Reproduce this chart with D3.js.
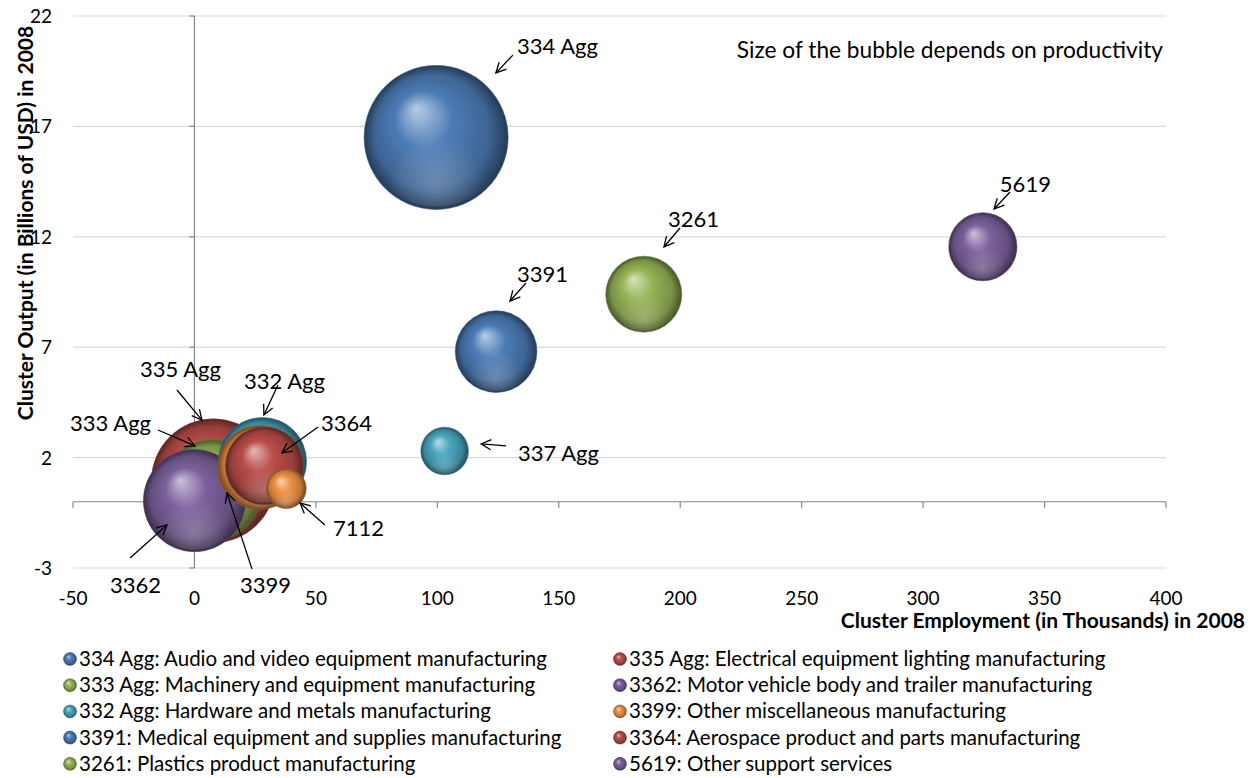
<!DOCTYPE html>
<html><head><meta charset="utf-8">
<script src="https://cdn.jsdelivr.net/npm/d3@7/dist/d3.min.js"></script>
<style>body{margin:0;background:#fff}svg{display:block;font-family:Lato,'Open Sans',sans-serif}</style>
</head><body><svg id="c" width="1253" height="778"></svg>
<script>
// ---- data ----
const ids = ["334 Agg","335 Agg","333 Agg","3362","332 Agg","3399","3391","3364","3261","5619","7112","337 Agg"];
const names = ["Audio and video equipment manufacturing","Electrical equipment lighting manufacturing","Machinery and equipment manufacturing","Motor vehicle body and trailer manufacturing","Hardware and metals manufacturing","Other miscellaneous manufacturing","Medical equipment and supplies manufacturing","Aerospace product and parts manufacturing","Plastics product manufacturing","Other support services","",""];
const employment = [99.5, 7.8, 7.4, 0.0, 28.0, 26.8, 124.2, 28.8, 185.0, 324.6, 37.8, 103.0];
const output = [16.5, 0.95, 0.54, 0.05, 1.82, 1.55, 6.8, 1.63, 9.4, 11.55, 0.6, 2.3];
const productivity = [165, 122, 80, 83, 62, 56, 53, 48, 46, 37, 12.7, 18];
const inLegend = [true,true,true,true,true,true,true,true,true,true,false,false];
const colors = ["#4f81bd","#c0504d","#9bbb59","#8064a2","#4bacc6","#f79646","#4f81bd","#c0504d","#9bbb59","#8064a2","#f79646","#4bacc6"];
const xTicks = [-50,0,50,100,150,200,250,300,350,400];
const yTicks = [-3,2,7,12,17,22];
// annotations: label anchor, arrow start, arrow tip (all in data units)
const annLabel = ["334 Agg","5619","3261","3391","335 Agg","332 Agg","333 Agg","3364","337 Agg","7112","3362","3399"];
const annText = [[132.8,20.28],[331.6,14.03],[195,12.44],[132.8,9.95],[-22.4,5.65],[20.4,5.11],[-51.2,3.2],[52.1,3.2],[133.2,1.85],[57,-1.55],[-34.8,-4.13],[18.75,-4.13]];
const annFrom = [[131.1,20.23],[335.8,14.03],[199.9,12.4],[136.5,9.91],[-7.2,5.06],[34.4,5.29],[-15,3.25],[50.9,3.39],[128.3,2.53],[53.7,-1.05],[-26.5,-2.55],[23.7,-3.05]];
const annTo = [[124.1,19.42],[329.2,13.26],[193.3,11.54],[129.9,9.09],[3.1,3.7],[28.6,3.93],[0.2,2.53],[36,2.21],[118,2.62],[43.5,-0.06],[-11.3,-1.05],[13.4,0.4]];

// ---- chart ----
const svg = d3.select("#c");
const x = d3.scaleLinear().domain([-50,400]).range([73,1166]);
const y = d3.scaleLinear().domain([-3,22]).range([568,16]);
const r = d3.scaleSqrt().domain([0,165]).range([0,72]);

const defs = svg.append("defs");
function grad(id, c){
  const base = d3.color(c);
  const g = defs.append("radialGradient").attr("id",id).attr("cx","50%").attr("cy","50%").attr("r","50%").attr("fx","36%").attr("fy","30%");
  g.append("stop").attr("offset","0%").attr("stop-color", d3.interpolateRgb(c,"#ffffff")(0.6));
  g.append("stop").attr("offset","40%").attr("stop-color", base.darker(0.1));
  g.append("stop").attr("offset","80%").attr("stop-color", base.darker(0.7));
  g.append("stop").attr("offset","100%").attr("stop-color", base.darker(2.2));
}
colors.forEach((c,i)=>grad("g"+i,c));
const refl = defs.append("radialGradient").attr("id","refl").attr("cx","50%").attr("cy","82%").attr("r","35%");
refl.append("stop").attr("offset","0%").attr("stop-color","#ffffff").attr("stop-opacity",0.22);
refl.append("stop").attr("offset","100%").attr("stop-color","#ffffff").attr("stop-opacity",0);
const mk = defs.append("marker").attr("id","arr").attr("viewBox","0 0 12 12").attr("refX",11).attr("refY",6)
  .attr("markerWidth",12).attr("markerHeight",12).attr("markerUnits","userSpaceOnUse").attr("orient","auto");
mk.append("path").attr("d","M1,1 L11,6 L1,11").attr("fill","none").attr("stroke","#000").attr("stroke-width",1.3);

// gridlines
svg.append("g").selectAll("line").data(yTicks).join("line")
  .attr("x1",x(-50)).attr("x2",x(400)).attr("y1",d=>y(d)).attr("y2",d=>y(d))
  .attr("stroke","#d9d9d9").attr("stroke-width",1.2);
// axes (crossing at 0,0)
const ax = svg.append("g").attr("stroke","#868686").attr("stroke-width",1.2);
ax.append("line").attr("x1",x(-50)).attr("x2",x(400)).attr("y1",y(0)).attr("y2",y(0));
ax.selectAll(".xt").data(xTicks).join("line").attr("x1",d=>x(d)).attr("x2",d=>x(d)).attr("y1",y(0)).attr("y2",y(0)+6);
ax.append("line").attr("x1",x(0)).attr("x2",x(0)).attr("y1",y(-3)).attr("y2",y(22));
ax.selectAll(".yt").data(yTicks).join("line").attr("x1",x(0)-5).attr("x2",x(0)).attr("y1",d=>y(d)).attr("y2",d=>y(d));

// tick labels
svg.append("g").selectAll("text").data(xTicks).join("text")
  .attr("x",d=>x(d)).attr("y",605).attr("text-anchor","middle").attr("font-size",19).attr("fill","#000").text(d=>d);
svg.append("g").selectAll("text").data(yTicks).join("text")
  .attr("x",52).attr("y",d=>y(d)+7).attr("text-anchor","end").attr("font-size",19).attr("fill","#000").text(d=>d);

// axis titles
svg.append("text").attr("x",1245).attr("y",628).attr("text-anchor","end").attr("font-weight","bold").attr("font-size",21).text("Cluster Employment (in Thousands) in 2008");
svg.append("text").attr("transform","translate(33,223) rotate(-90)").attr("text-anchor","middle").attr("font-weight","bold").attr("font-size",21).text("Cluster Output (in Billions of USD) in 2008");

// bubbles
const idx = d3.range(ids.length);
const bg = svg.append("g").selectAll("g").data(idx).join("g");
bg.append("circle")
  .attr("cx",i=>x(employment[i])).attr("cy",i=>y(output[i])).attr("r",i=>r(productivity[i]))
  .attr("fill",i=>"url(#g"+i+")").attr("stroke",i=>d3.color(colors[i]).darker(1.2)).attr("stroke-width",0.6);
bg.append("circle")
  .attr("cx",i=>x(employment[i])).attr("cy",i=>y(output[i])).attr("r",i=>r(productivity[i])*0.96)
  .attr("fill","url(#refl)");

// note
svg.append("text").attr("x",1163).attr("y",58).attr("text-anchor","end").attr("font-size",22.7).text("Size of the bubble depends on productivity");

// annotations
const ag = svg.append("g");
annLabel.forEach((t,i)=>{
  ag.append("line").attr("x1",x(annFrom[i][0])).attr("y1",y(annFrom[i][1])).attr("x2",x(annTo[i][0])).attr("y2",y(annTo[i][1]))
    .attr("stroke","#000").attr("stroke-width",1.3).attr("marker-end","url(#arr)");
  ag.append("text").attr("x",x(annText[i][0])).attr("y",y(annText[i][1])).attr("font-size",22).attr("text-anchor","start").text(t);
});

// legend
const lg = svg.append("g");
const legIdx = idx.filter(i=>inLegend[i]);
legIdx.forEach((i,k)=>{
  const col = k%2, row = Math.floor(k/2);
  const lx = col===0 ? 70 : 620, ly = 659 + row*26.2;
  lg.append("circle").attr("cx",lx).attr("cy",ly).attr("r",6.5).attr("fill","url(#g"+i+")").attr("stroke",d3.color(colors[i]).darker(1.2)).attr("stroke-width",0.5);
  lg.append("text").attr("x",lx+9).attr("y",ly+7).attr("font-size",20.5).text(ids[i]+": "+names[i]);
});
</script></body></html>
